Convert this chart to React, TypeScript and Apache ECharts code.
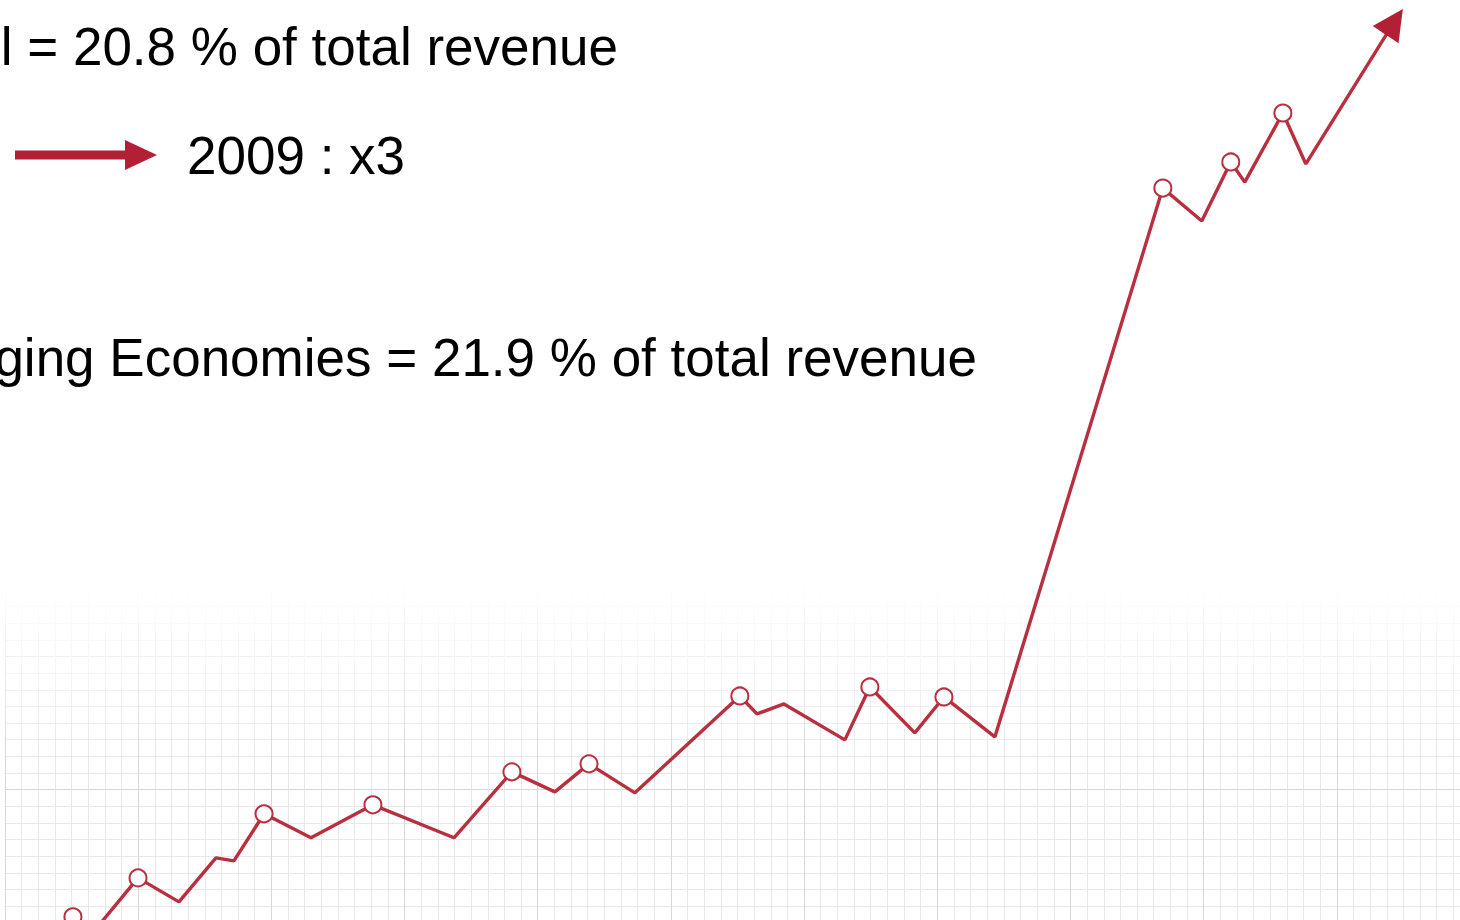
import React, { useEffect, useRef } from "react";
import * as echarts from "echarts";

// Line points (x in grid cells, y in grid cells)
const pointX = [2.4, 4.08, 4.92, 7.99, 10.45, 12.67, 13.75, 15.56, 18.38, 22.1, 26.97, 30.45, 33.03, 35.08, 37.84, 44.14, 45.17, 46.79, 50.45, 51.95, 54.65, 56.4, 59.46, 69.55, 71.89, 73.63, 74.47, 76.76, 78.14, 83.45];
const pointY = [-2.22, 0.36, -1.02, 2.7, 1.26, 3.9, 3.72, 6.55, 5.11, 7.09, 5.11, 9.07, 7.87, 9.55, 7.81, 13.63, 12.55, 13.15, 10.99, 14.17, 11.41, 13.57, 11.17, 44.14, 42.16, 45.71, 44.5, 48.65, 45.59, 54.13];
// which points carry a hollow circle marker
const markerFlags = [0, 1, 0, 1, 0, 0, 0, 1, 0, 1, 0, 1, 0, 1, 0, 1, 0, 0, 0, 1, 0, 1, 0, 1, 0, 1, 0, 1, 0, 0];

const line1 = "l = 20.8 % of total revenue";
const line2 = "2009 : x3";
const line3 = "ging Economies = 21.9 % of total revenue";

const LINE_COLOR = "#b82f3f";
const ARROW_COLOR = "#b32035";
const FONT = "53px 'Liberation Sans', Arial, sans-serif";

export default function App() {
  const ref = useRef<HTMLDivElement>(null);
  useEffect(() => {
    if (!ref.current) return;
    const chart = echarts.init(ref.current, undefined, { renderer: "svg" });
    const last = pointX.length - 1;
    const data = pointX.map((x, i) => {
      if (i === last) {
        return {
          value: [x, pointY[i]],
          symbol: "triangle",
          symbolSize: [31, 31],
          symbolRotate: -33.7,
          itemStyle: { color: ARROW_COLOR, borderColor: ARROW_COLOR, borderWidth: 0 },
        };
      }
      if (markerFlags[i]) {
        return {
          value: [x, pointY[i]],
          symbol: "emptyCircle",
          symbolSize: 17,
          itemStyle: { color: LINE_COLOR, borderColor: LINE_COLOR, borderWidth: 3.2 },
        };
      }
      return { value: [x, pointY[i]], symbol: "none" };
    });

    const axisCommon = {
      axisLine: { show: false },
      axisTick: { show: false },
      axisLabel: { show: false },
      interval: 8,
      minorTick: { show: false, splitNumber: 8 },
      splitLine: { show: true, lineStyle: { color: "#d8d8d8", width: 1 } },
      minorSplitLine: { show: true, lineStyle: { color: "#e8e8e8", width: 1 } },
    };

    chart.setOption({
      animation: false,
      backgroundColor: "#ffffff",
      grid: { left: 5, right: 0, top: 0, bottom: 0, containLabel: false },
      xAxis: { type: "value", min: 0, max: 88, ...axisCommon },
      yAxis: { type: "value", min: -8, max: 55.44, ...axisCommon },
      series: [
        {
          type: "line",
          data,
          showSymbol: true,
          symbol: "none",
          clip: false,
          z: 5,
          lineStyle: { color: LINE_COLOR, width: 3.4 },
          itemStyle: { color: LINE_COLOR },
          emphasis: { disabled: true },
        },
      ],
      graphic: [
        {
          type: "rect",
          z: 1,
          silent: true,
          shape: { x: 0, y: 0, width: 1475, height: 760 },
          style: {
            fill: new echarts.graphic.LinearGradient(0, 0, 0, 1, [
              { offset: 0, color: "rgba(255,255,255,1)" },
              { offset: 0.76, color: "rgba(255,255,255,1)" },
              { offset: 0.87, color: "rgba(255,255,255,0.6)" },
              { offset: 1, color: "rgba(255,255,255,0)" },
            ]),
          },
        },
        {
          type: "text",
          z: 10,
          x: 618,
          y: 46,
          style: { text: line1, font: FONT, fill: "#000", align: "right", verticalAlign: "middle" },
        },
        {
          type: "rect",
          z: 10,
          shape: { x: 15, y: 150.5, width: 112, height: 9 },
          style: { fill: ARROW_COLOR },
        },
        {
          type: "polygon",
          z: 10,
          shape: { points: [[125, 140], [157, 155], [125, 170]] },
          style: { fill: ARROW_COLOR },
        },
        {
          type: "text",
          z: 10,
          x: 187,
          y: 155,
          style: { text: line2, font: FONT, fill: "#000", align: "left", verticalAlign: "middle" },
        },
        {
          type: "text",
          z: 10,
          x: 977,
          y: 357,
          style: { text: line3, font: FONT, fill: "#000", align: "right", verticalAlign: "middle" },
        },
      ],
    });
    return () => chart.dispose();
  }, []);
  return (
    <div style={{ position: "absolute", left: 0, top: 0, width: 1460, height: 920, overflow: "hidden" }}>
      <div
        ref={ref}
        style={{ position: "absolute", left: 0, top: 0, width: 1470, height: 1056 }}
      />
    </div>
  );
}
